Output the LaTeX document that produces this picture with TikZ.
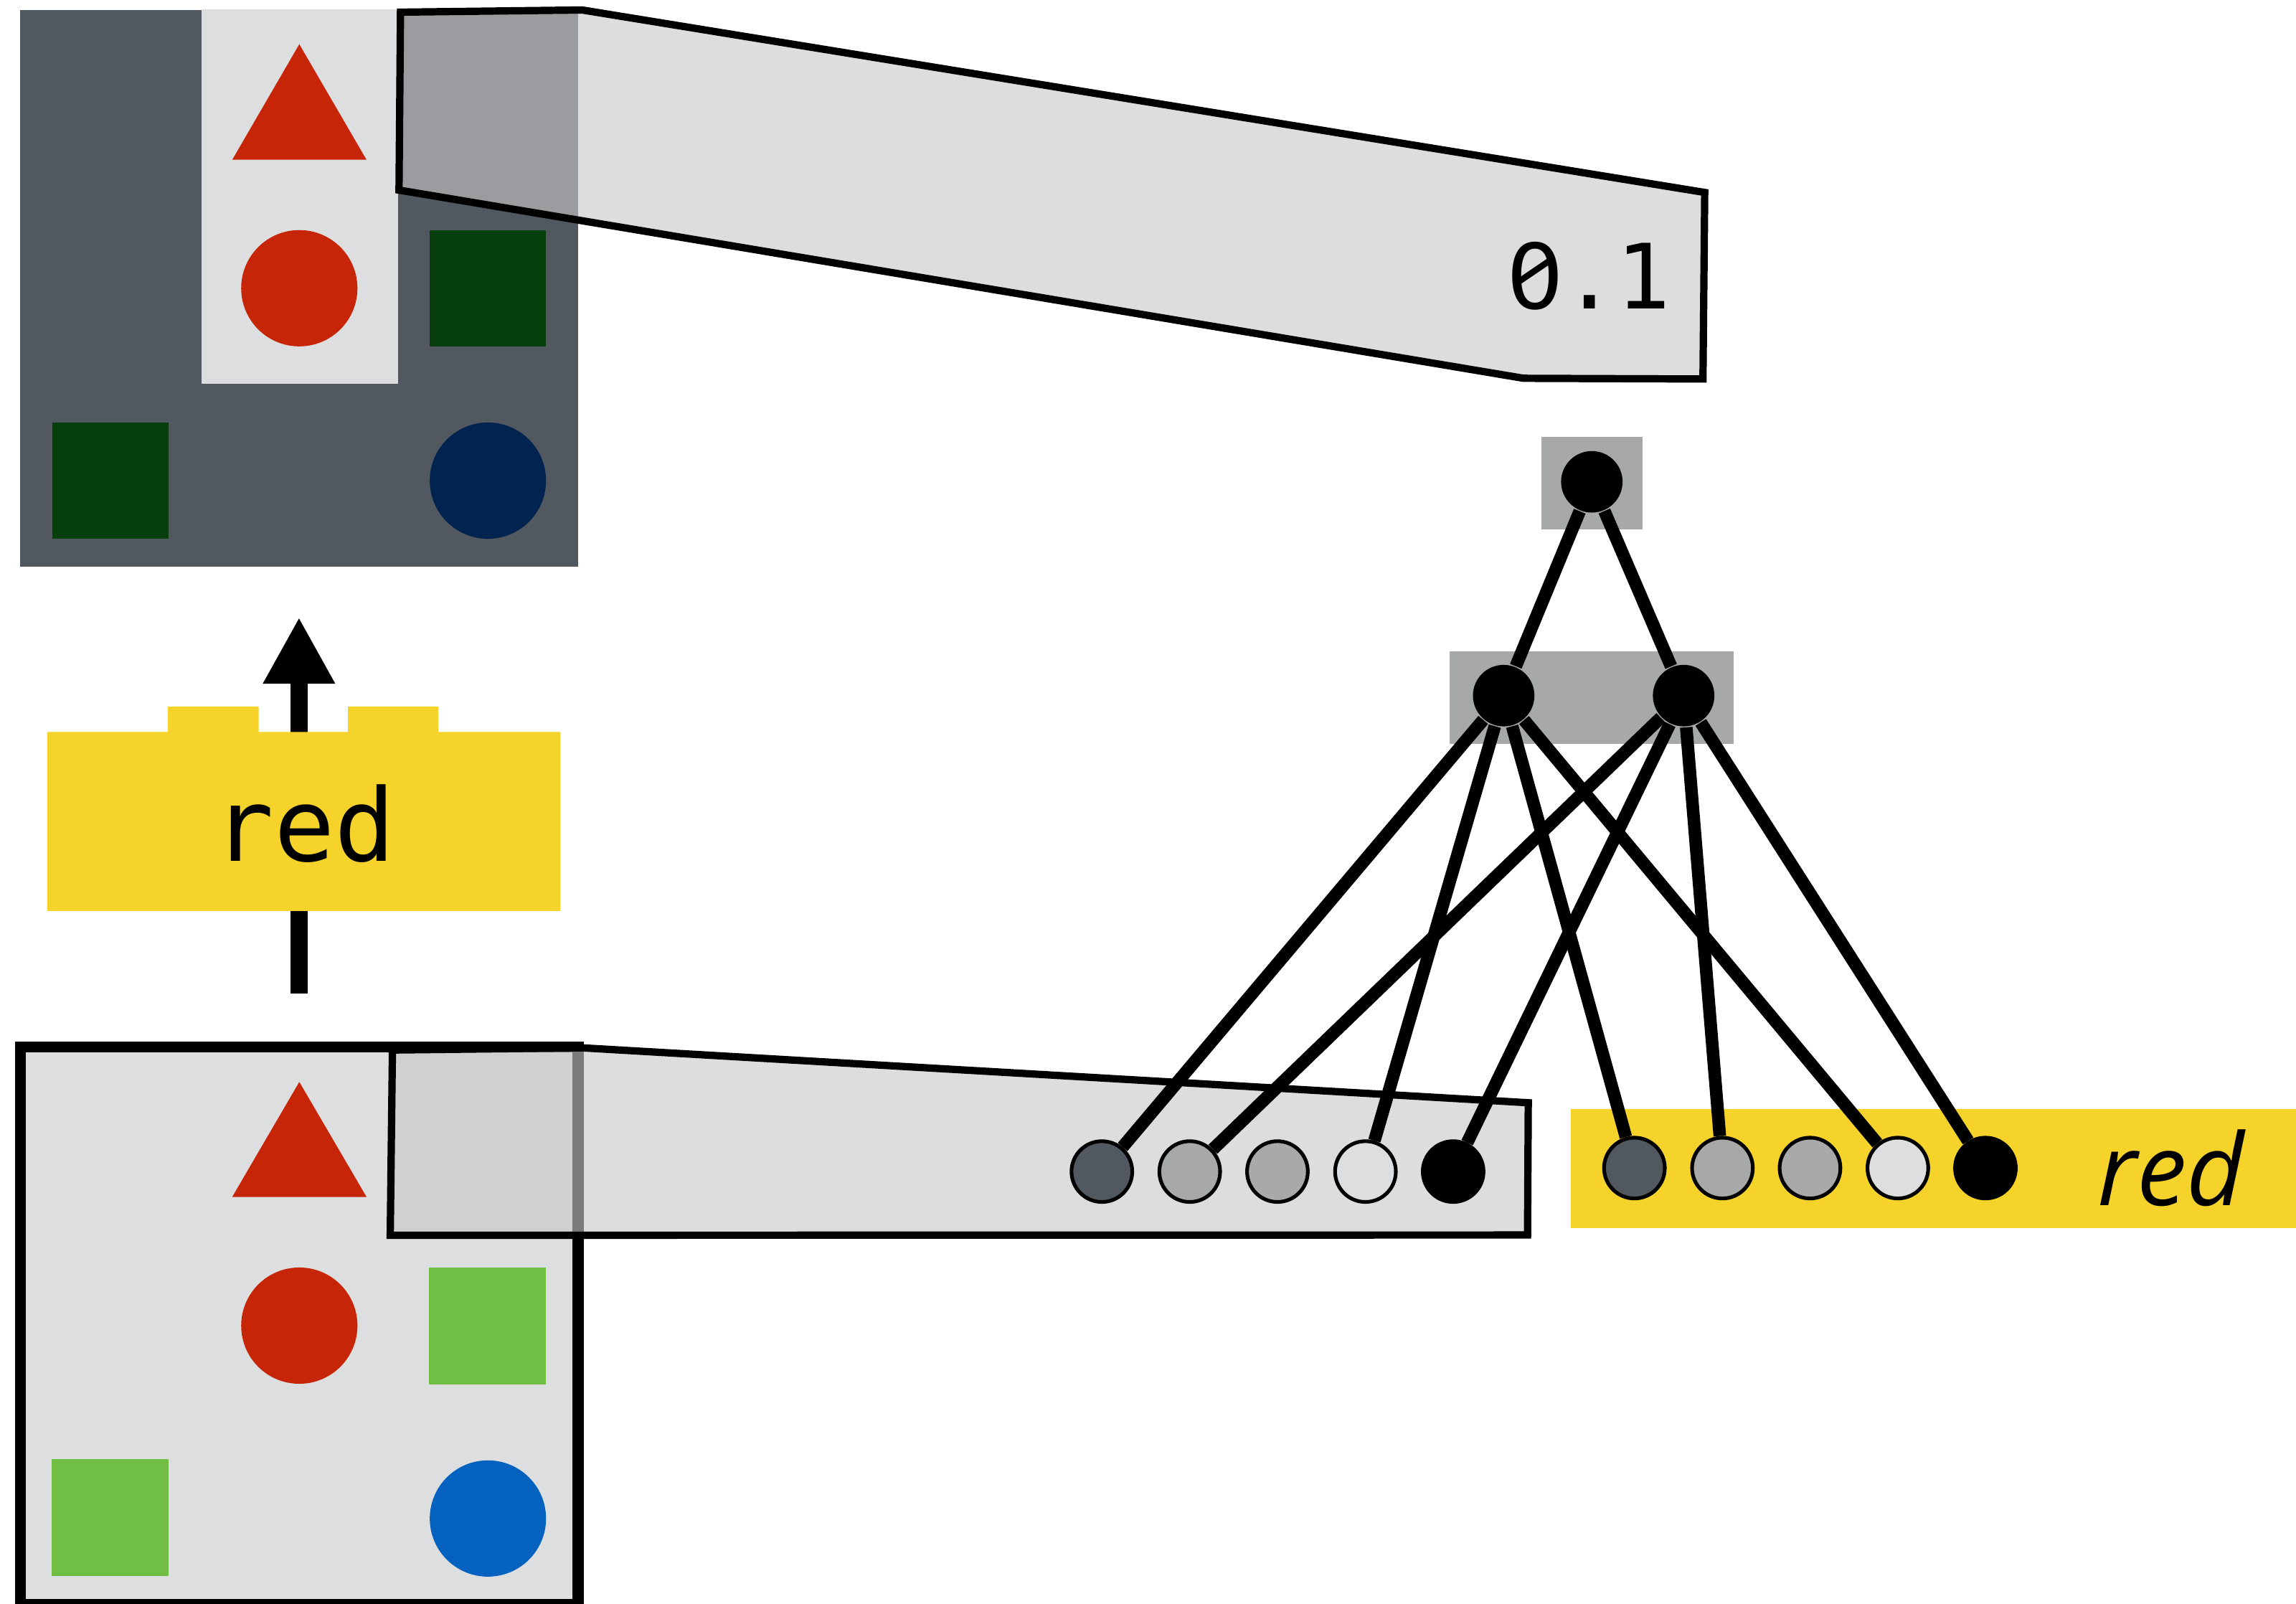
\documentclass[tikz,border=0pt]{standalone}
\usepackage{fontspec}
\usepackage{tikz}
\usetikzlibrary{arrows.meta}
\newfontfamily\monofont{DejaVu Sans Mono}
\newfontfamily\plainfont{DejaVu Sans}
\newfontfamily\itfont{Open Sans}
\definecolor{slate}{HTML}{525860}
\definecolor{paper}{HTML}{DDDEE0}
\definecolor{cred}{HTML}{C62507}
\definecolor{dgreen}{HTML}{073F0C}
\definecolor{navy}{HTML}{00234F}
\definecolor{lgreen}{HTML}{70BE43}
\definecolor{cblue}{HTML}{0563BF}
\definecolor{yel}{HTML}{F5D32A}
\definecolor{ash}{HTML}{A6A9A8}
\definecolor{ash2}{HTML}{A9A9A9}
\definecolor{veil}{HTML}{C8C8C8}
\tikzset{
  veilbox/.style={draw=black,line width=0.5mm,fill=veil,fill opacity=0.615},
  panelrule/.style={draw=black,line width=0.75mm},
  unitnode/.style={circle,draw=black,line width=0.25mm,minimum size=4.15mm,inner sep=0pt},
  hidnode/.style={circle,fill=black,minimum size=4.2mm,inner sep=0pt},
  wire/.style={draw=black,line width=0.86mm},
  uparr/.style={-{Triangle[length=4.55mm,width=4.6mm]},line width=1.16mm},
  zslash/.style={draw=black,line width=0.42mm},
  numtxt/.style={font=\monofont\fontsize{17.5pt}{20pt}\selectfont,inner sep=0pt,anchor=base},
  tagtxt/.style={font=\monofont\fontsize{19.6pt}{23pt}\selectfont,inner sep=0pt,anchor=base},
  ittxt/.style={font=\itfont\itshape\fontsize{19.4pt}{23pt}\selectfont,inner sep=0pt,anchor=base},
}
\begin{document}
\begin{tikzpicture}[x=0.1mm,y=-0.1mm]
  \useasboundingbox (0,0) rectangle (1568,1095);
  \fill[slate] (13.8,6.9) rectangle (394.8,386.8);
  \fill[paper] (137.5,6.4) rectangle (271.9,262);
  \fill[cred] (204.4,30.2) -- (250.3,109.1) -- (158.6,109.1) -- cycle;
  \fill[cred] (204.4,196.8) circle (3.97mm);
  \fill[dgreen] (293.6,157.3) rectangle (372.9,236.7);
  \fill[dgreen] (35.7,288.5) rectangle (115,367.9);
  \fill[navy] (333.2,328.2) circle (3.97mm);
  \draw[veilbox] (273.5,8.3) -- (397.5,6.8) -- (1164.2,131.4) -- (1163,258.8) -- (1040.5,258.3) -- (272.5,129.8) -- cycle;
  \node[numtxt] (val) at (1085.5,211) {\makebox[0.602em]{\plainfont 0}.1};
  \draw[zslash] ([shift={(8,-18.7)}]val.base west) -- ([shift={(29,-33)}]val.base west);

  \fill[paper] (14,715) rectangle (394.8,1095.5);
  \fill[cred] (204.4,738.8) -- (250.3,817.3) -- (158.6,817.3) -- cycle;
  \fill[cred] (204.4,905.2) circle (3.97mm);
  \fill[lgreen] (293,865.6) rectangle (372.9,945.4);
  \fill[lgreen] (35.2,996.5) rectangle (115,1076.4);
  \fill[cblue] (333.2,1036.9) circle (3.97mm);
  \draw[panelrule] (14,715) rectangle (394.8,1095.5);
  \draw[veilbox] (268,717) -- (397.5,715.5) -- (1043.7,753) -- (1043.2,843.3) -- (266.5,843.5) -- cycle;

  \fill[ash] (1052.8,298.3) rectangle (1121.8,361.5);
  \fill[ash] (990,444.8) rectangle (1184,508);
  \fill[yel] (1072.8,757.3) rectangle (1568,838.5);

  \node[hidnode] (t) at (1087.1,329) {};
  \node[hidnode] (m1) at (1026.9,475) {};
  \node[hidnode] (m2) at (1149.8,475) {};
  \foreach \c/\x [count=\i] in {slate/752.5,ash/812.5,ash2/872.4,paper/932.5,black/992.4}
    \node[unitnode,fill=\c] (b\i) at (\x,800) {};
  \foreach \c/\x [count=\i] in {slate/1116.2,ash/1176.3,ash2/1236.1,paper/1296.1,black/1355.9}
    \node[unitnode,fill=\c] (r\i) at (\x,797.6) {};
  \foreach \a/\b in {t/m1,t/m2,m1/b1,m1/b4,m1/r1,m1/r4,m2/b2,m2/b5,m2/r2,m2/r5}
    \draw[wire] (\a) -- (\b);
  \node[ittxt] (word) at (1482.5,823) {red};

  \coordinate (foot) at (204.2,678.4);
  \coordinate (tip) at (204.2,421.4);
  \draw[uparr] (foot) -- (tip);
  \fill[yel] (32.3,622) -- (32.3,499.8) -- (114.7,499.8) -- (114.7,482.5) -- (176.6,482.5) -- (176.6,499.8)
    -- (237.6,499.8) -- (237.6,482.5) -- (299.4,482.5) -- (299.4,499.8) -- (382.7,499.8) -- (382.7,622) -- cycle;
  \node[tagtxt] (tag) at (208,588) {red};
\end{tikzpicture}
\end{document}
